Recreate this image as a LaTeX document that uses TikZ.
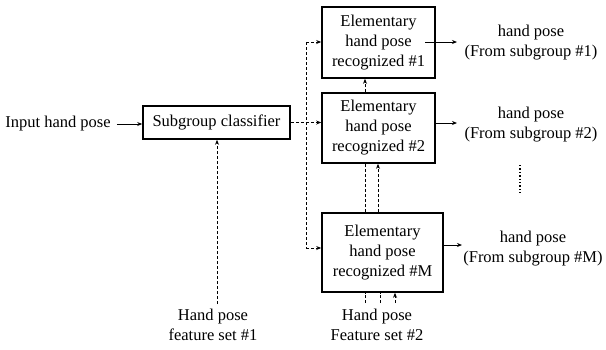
\documentclass[tikz,border=0pt]{standalone}
\usepackage{fontspec}
\setmainfont{Liberation Serif}
\usetikzlibrary{arrows.meta}
\begin{document}
\begin{tikzpicture}[x=1pt,y=-1pt,
  txt/.style={font=\fontsize{16.5}{20}\selectfont, inner sep=0pt, align=center},
  blk/.style={draw, line width=1.6pt, txt},
  con/.style={line width=1pt, -{Stealth[length=5pt,width=4pt]}},
  dcon/.style={line width=1pt, densely dashed, -{Stealth[length=5pt,width=4pt]}},
  dline/.style={line width=1pt, densely dashed},
  dotline/.style={line width=1.4pt, dotted}]
\useasboundingbox (0,0) rectangle (606,349);
% boxes
\node[blk, minimum width=147pt, minimum height=33pt] (cls) at (216.5,122.5) {Subgroup classifier};
\node[blk, minimum width=113pt, minimum height=71pt] (b1) at (378.5,42.5) {Elementary\\hand pose\\recognized \#1};
\node[blk, minimum width=113pt, minimum height=70pt] (b2) at (378.5,128) {Elementary\\hand pose\\recognized \#2};
\node[blk, minimum width=121pt, minimum height=79pt] (bM) at (382.5,252.5) {Elementary\\hand pose\\recognized \#M};
% texts
\node[txt] (in) at (58,124) {Input hand pose};
\node[txt] (o1) at (531,43) {hand pose\\(From subgroup \#1)};
\node[txt] (o2) at (531,125) {hand pose\\(From subgroup \#2)};
\node[txt] (oM) at (533,249) {hand pose\\(From subgroup \#M)};
\node[txt] (fs1) at (213,325) {Hand pose\\feature set \#1};
\node[txt] (fs2) at (377,325) {Hand pose\\Feature set \#2};
% input
\draw[con] (in.east) ++(6,0) coordinate (inS) (inS) -- (cls.west |- inS);
% outputs
\coordinate (o1s) at (425,42);
\draw[con] (o1s) -- (457,42) coordinate (o1e);
\draw[con] (b2.east |- 0,123) coordinate (o2s) -- (457,123) coordinate (o2e);
\draw[con] (bM.east |- 0,245) coordinate (oMs) -- (462,245) coordinate (oMe);
% ellipsis
\coordinate (e1) at (520,165);
\coordinate (e2) at (520,193);
\draw[dotline] (e1) -- (e2);
% distribution from classifier
\coordinate (sp1) at (306,42);
\coordinate (spM) at (306,248);
\draw[dcon] (cls.east) -- (cls.east -| b2.west);
\draw[dline] (sp1) -- (spM);
\draw[dcon] (sp1) -- (sp1 -| b1.west);
\draw[dcon] (spM) -- (spM -| bM.west);
% feature set 1
\coordinate (f1s) at (217,304);
\draw[dcon] (f1s) -- (f1s |- cls.south);
% between boxes
\draw[dcon] (b2.north -| 365,0) -- (b1.south -| 365,0);
\draw[dline] (bM.north -| 365,0) -- (b2.south -| 365,0);
\draw[dcon] (bM.north -| 378,0) -- (b2.south -| 378,0);
% feature set 2
\coordinate (f2a) at (365,303);
\coordinate (f2b) at (380,303);
\coordinate (f2c) at (395,303);
\draw[dline] (f2a) -- (f2a |- bM.south);
\draw[dline] (f2b) -- (f2b |- bM.south);
\draw[dcon] (f2c) -- (f2c |- bM.south);
\end{tikzpicture}
\end{document}
